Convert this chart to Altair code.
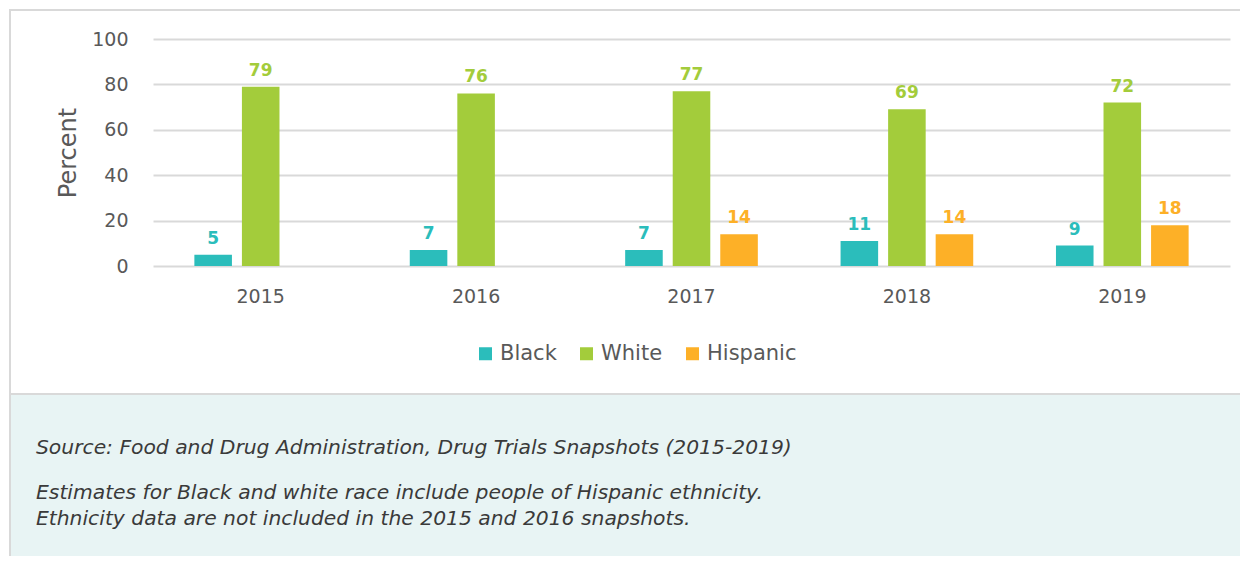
import altair as alt
import pandas as pd

years = ["2015", "2016", "2017", "2018", "2019"]
black = [5, 7, 7, 11, 9]
white = [79, 76, 77, 69, 72]
hispanic = [None, None, 14, 14, 18]
groups = ["Black", "White", "Hispanic"]
colors = ["#2bbdbb", "#a3cc3b", "#fdb027"]
y_ticks = [0, 20, 40, 60, 80, 100]
footer_source = "Source: Food and Drug Administration, Drug Trials Snapshots (2015-2019)"
footer_note1 = "Estimates for Black and white race include people of Hispanic ethnicity."
footer_note2 = "Ethnicity data are not included in the 2015 and 2016 snapshots."

rows = []
for i, yr in enumerate(years):
    for g, series in zip(groups, [black, white, hispanic]):
        v = series[i]
        if v is not None:
            rows.append({"year": yr, "group": g, "value": v})
df = pd.DataFrame(rows)

FONT = "DejaVu Sans"
GRAY = "#595959"

one = pd.DataFrame({"a": [0]})

border = alt.Chart(one).mark_rect(fill="transparent", stroke="#d9d9d9", strokeWidth=2).encode(
    x=alt.value(-143), x2=alt.value(1200), y=alt.value(-29), y2=alt.value(700)
)
footer_bg = alt.Chart(one).mark_rect(fill="#e8f4f4", stroke="#d9d9d9", strokeWidth=2).encode(
    x=alt.value(-143), x2=alt.value(1200), y=alt.value(355), y2=alt.value(700)
)

def ftext(txt, ypos):
    return alt.Chart(one).mark_text(
        align="left", baseline="middle", font=FONT, fontStyle="italic",
        fontSize=20.3, color="#3a3a3a"
    ).encode(x=alt.value(-117), y=alt.value(ypos), text=alt.value(txt))

x_enc = alt.X("year:N", sort=years, title=None,
              scale=alt.Scale(domain=years, paddingInner=0, paddingOuter=0),
              axis=alt.Axis(labelAngle=0, labelFontSize=19, labelColor=GRAY, labelFont=FONT,
                            labelPadding=21, ticks=False, domain=False, grid=False))
xoff = alt.XOffset("group:N", sort=groups,
                   scale=alt.Scale(domain=groups, paddingInner=0.21, paddingOuter=0.87))
color_enc = alt.Color("group:N", sort=groups,
                      scale=alt.Scale(domain=groups, range=colors),
                      legend=alt.Legend(orient="none", legendX=322, legendY=304,
                                        direction="horizontal", title=None,
                                        symbolType="square", symbolSize=169,
                                        symbolStrokeWidth=0, labelFontSize=21,
                                        labelColor=GRAY, labelFont=FONT,
                                        columnPadding=19, labelOffset=4))

bars = alt.Chart(df).mark_bar().encode(
    x=x_enc,
    xOffset=xoff,
    y=alt.Y("value:Q", title="Percent",
            scale=alt.Scale(domain=[0, 100], nice=False),
            axis=alt.Axis(values=y_ticks, labelFontSize=19, labelColor=GRAY, labelFont=FONT,
                          labelPadding=25, ticks=False, domain=False,
                          gridColor="#d9d9d9", gridWidth=2,
                          titleFontSize=24, titleColor=GRAY, titleFont=FONT,
                          titleFontWeight="normal", titlePadding=11)),
    color=color_enc,
)

labels = alt.Chart(df).mark_text(
    baseline="bottom", dy=-7, font=FONT, fontWeight="bold", fontSize=17
).encode(
    x=alt.X("year:N", sort=years),
    xOffset=alt.XOffset("group:N", sort=groups),
    y="value:Q",
    text="value:Q",
    color=alt.Color("group:N", sort=groups, legend=None),
)

chart = alt.layer(
    footer_bg, border, bars, labels,
    ftext(footer_source, 409), ftext(footer_note1, 454), ftext(footer_note2, 480)
).properties(
    width=1077, height=227,
    autosize=alt.AutoSizeParams(type="none"),
    padding={"left": 145, "top": 31, "right": 10, "bottom": 290},
).configure_view(stroke=None)

chart.save("out.html", embed_options={"renderer": "svg", "actions": False})
